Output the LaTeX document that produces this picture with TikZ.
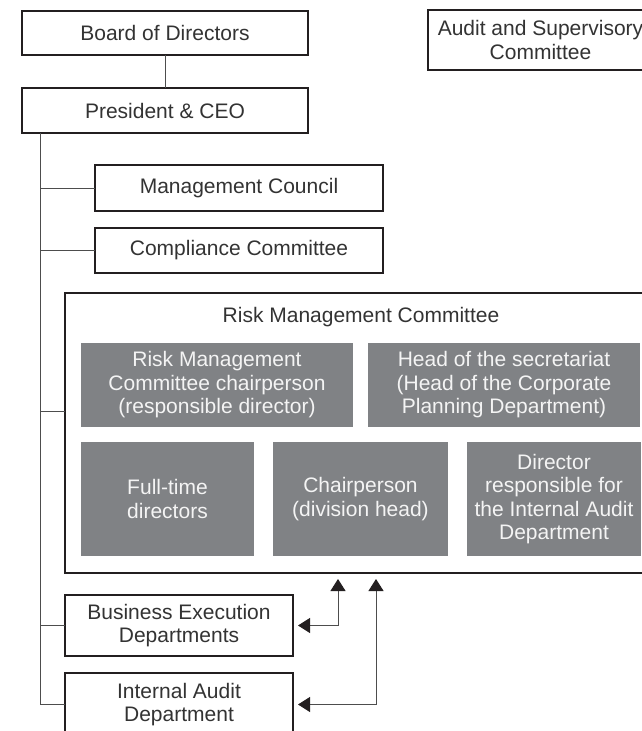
\documentclass[tikz,border=0pt]{standalone}
\usepackage{fontspec}
\setmainfont{Liberation Sans}
\usepackage{xcolor}
\definecolor{LineGrey}{HTML}{4D4D4D}
\definecolor{FrameBlack}{HTML}{231F20}
\definecolor{BoxGrey}{HTML}{808285}
\definecolor{TextDark}{HTML}{333333}
\definecolor{TextLight}{HTML}{F4F4F4}
\usepackage{tikz}
\usetikzlibrary{arrows.meta,calc,positioning}

\begin{document}
\begin{tikzpicture}[
    x=1pt,y=-1pt,
    orgbox/.style={rectangle,draw=FrameBlack,line width=1.4pt,fill=white,
      text=TextDark,align=center,inner sep=0pt,outer sep=0pt,
      font=\fontsize{21}{23.5}\selectfont},
    greybox/.style={rectangle,fill=BoxGrey,text=TextLight,align=center,
      inner sep=0pt,outer sep=0pt,minimum height=84pt,
      font=\fontsize{21}{23.5}\selectfont},
    frame/.style={rectangle,draw=FrameBlack,line width=2pt,
      inner sep=0pt,outer sep=0pt},
    link/.style={draw=LineGrey,line width=1pt},
    tip/.tip={Triangle[length=12pt,width=15pt,color=FrameBlack]},
    arr/.style={tip-tip,draw=LineGrey,line width=1pt}
  ]
    \useasboundingbox (0,0) rectangle (642,731);
    \clip (0,0) rectangle (642,731);

    % top level
    \node[orgbox,minimum width=286pt,minimum height=44pt] (board) at (165,33)
      {Board of Directors};
    \node[orgbox,minimum width=286pt,minimum height=45pt,below=33pt of board] (pres)
      {President \& CEO};
    \node[orgbox,minimum width=225pt,minimum height=60pt] (audit) at (540.5,40)
      {Audit and Supervisory\\Committee};

    % committees
    \node[orgbox,anchor=north west,minimum width=288pt,minimum height=46pt] (mgmt)
      at (95,165) {Management Council};
    \node[orgbox,anchor=north west,minimum width=288pt,minimum height=45pt] (compl)
      at (95,228) {Compliance Committee};

    % risk management committee
    \node[frame,anchor=north west,minimum width=592pt,minimum height=280pt] (rmc)
      at (65,293) {};
    \node[text=TextDark,font=\fontsize{21}{23.5}\selectfont] (rmctitle)
      at (361,317) {Risk Management Committee};
    \node[greybox,anchor=north west,minimum width=272pt] (chair) at (81,343)
      {Risk Management\\Committee chairperson\\(responsible director)};
    \node[greybox,minimum width=272pt,right=15pt of chair] (secr)
      {Head of the secretariat\\(Head of the Corporate\\Planning Department)};
    \node[greybox,anchor=north west,minimum width=173pt,minimum height=114pt] (fulltime)
      at (81,442) {Full-time\\directors};
    \node[greybox,minimum width=175pt,minimum height=114pt,right=19pt of fulltime] (divhead)
      {Chairperson\\(division head)};
    \node[greybox,minimum width=174pt,minimum height=114pt,right=19pt of divhead] (iadir)
      {Director\\responsible for\\the Internal Audit\\Department};

    % departments
    \node[orgbox,anchor=north west,minimum width=228pt,minimum height=61pt] (busi)
      at (65,595) {Business Execution\\Departments};
    \node[orgbox,minimum width=228pt,minimum height=63pt,below=17pt of busi] (iaud)
      {Internal Audit\\Department};

    % connectors
    \coordinate (trunk) at ([xshift=18pt]pres.south west);
    \coordinate (tip1) at (338,579);
    \coordinate (tip2) at (376,579);

    \draw[link] (board) -- (pres);
    \draw[link] (trunk) |- (mgmt.west);
    \draw[link] (trunk) |- (compl.west);
    \draw[link] (trunk) |- ([yshift=-118pt]rmc.north west);
    \draw[link] (trunk) |- (busi.west);
    \draw[link] (trunk) |- (iaud.west);

    \draw[arr] (tip1) |- ([xshift=5pt]busi.east);
    \draw[arr] (tip2) |- ([xshift=5pt]iaud.east);
  \end{tikzpicture}
\end{document}
